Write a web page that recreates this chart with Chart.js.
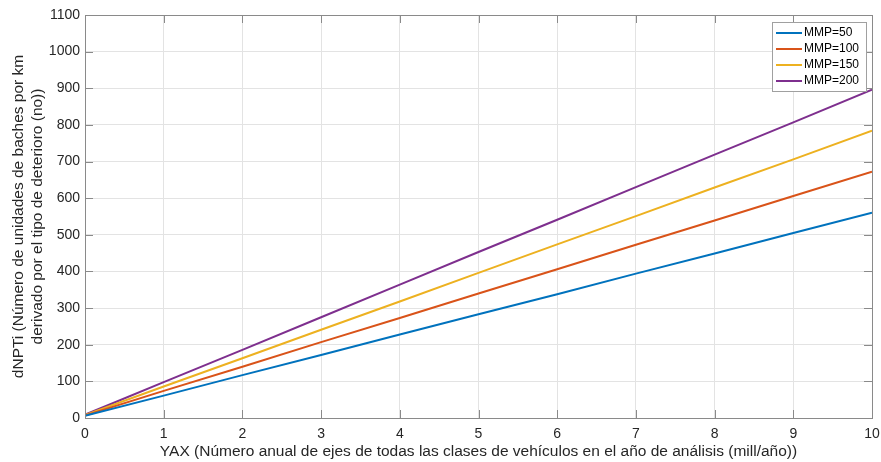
<!doctype html>
<html lang="es">
<head>
  <meta charset="utf-8">
  <script src="https://cdn.jsdelivr.net/npm/chart.js"></script>
  <style>
    html, body { margin: 0; padding: 0; background: #ffffff; }
    #caja { width: 881px; height: 462px; position: relative; }
  </style>
  <title>dNPTi vs YAX</title>
</head>
<body>
  <div id="caja"><canvas id="grafico"></canvas></div>

  <script>
    // Datos
    const yax = [0, 1, 2, 3, 4, 5, 6, 7, 8, 9, 10];
    const mmp50  = [6, 61, 117, 172, 228, 283, 338, 394, 449, 505, 560];
    const mmp100 = [7, 74, 140, 207, 273, 340, 406, 473, 539, 606, 672];
    const mmp150 = [8, 86, 163, 241, 318, 396, 474, 551, 629, 706, 784];
    const mmp200 = [9, 98, 186, 275, 364, 453, 541, 630, 719, 807, 896];
    const etiquetas = ["MMP=50", "MMP=100", "MMP=150", "MMP=200"];
    const xTicks = [0, 1, 2, 3, 4, 5, 6, 7, 8, 9, 10];
    const yTicks = [0, 100, 200, 300, 400, 500, 600, 700, 800, 900, 1000, 1100];

    const colores = ["#0072BD", "#D95319", "#EDB120", "#7E2F8E"];
    const series = [mmp50, mmp100, mmp150, mmp200];
    const fuente = "'Liberation Sans', Arial, sans-serif";

    // Caja, marcas interiores, leyenda y títulos al estilo MATLAB
    const estiloMatlab = {
      id: "estiloMatlab",
      afterDatasetsDraw(chart) {
        const ctx = chart.ctx;
        const a = chart.chartArea;
        const sx = chart.scales.x, sy = chart.scales.y;
        ctx.save();
        ctx.strokeStyle = "#8a8a8a";
        ctx.lineWidth = 1;
        ctx.beginPath();
        xTicks.forEach(t => {
          const px = Math.round(sx.getPixelForValue(t)) + 0.5;
          ctx.moveTo(px, a.bottom); ctx.lineTo(px, a.bottom - 8);
          ctx.moveTo(px, a.top); ctx.lineTo(px, a.top + 8);
        });
        yTicks.forEach(t => {
          const py = Math.round(sy.getPixelForValue(t)) + 0.5;
          ctx.moveTo(a.left, py); ctx.lineTo(a.left + 8, py);
          ctx.moveTo(a.right, py); ctx.lineTo(a.right - 8, py);
        });
        ctx.stroke();
        ctx.strokeRect(Math.round(a.left) + 0.5, Math.round(a.top) + 0.5,
                       Math.round(a.right - a.left), Math.round(a.bottom - a.top));

        // leyenda (esquina superior derecha)
        const lw = 94, lh = 69;
        const lx = Math.round(a.right) - lw - 6, ly = 22;
        ctx.fillStyle = "#ffffff";
        ctx.fillRect(lx, ly, lw, lh);
        ctx.strokeStyle = "#a0a0a0";
        ctx.strokeRect(lx + 0.5, ly + 0.5, lw, lh);
        ctx.font = "12px " + fuente;
        ctx.textBaseline = "middle";
        etiquetas.forEach((et, i) => {
          const yy = ly + 11 + i * 16;
          ctx.strokeStyle = colores[i];
          ctx.lineWidth = 2;
          ctx.beginPath();
          ctx.moveTo(lx + 4, yy); ctx.lineTo(lx + 30, yy);
          ctx.stroke();
          ctx.fillStyle = "#000000";
          ctx.fillText(et, lx + 32, yy);
        });

        // títulos de ejes
        ctx.fillStyle = "#262626";
        ctx.font = "15.5px " + fuente;
        ctx.textAlign = "center";
        ctx.textBaseline = "middle";
        ctx.fillText("YAX (Número anual de ejes de todas las clases de vehículos en el año de análisis (mill/año))",
                     (a.left + a.right) / 2, 452);
        ctx.translate(0, (a.top + a.bottom) / 2);
        ctx.rotate(-Math.PI / 2);
        ctx.fillText("dNPTi (Número de unidades de baches por km", 0, 19);
        ctx.fillText("derivado por el tipo de deterioro (no))", 0, 38);
        ctx.restore();
      }
    };

    const datasets = series.map((s, i) => ({
      label: etiquetas[i],
      data: yax.map((x, j) => ({ x: x, y: s[j] })),
      borderColor: colores[i],
      backgroundColor: colores[i],
      borderWidth: 2,
      pointRadius: 0,
      tension: 0
    }));

    new Chart(document.getElementById("grafico"), {
      type: "line",
      data: { datasets: datasets },
      options: {
        responsive: true,
        maintainAspectRatio: false,
        animation: false,
        layout: { padding: { left: 0, right: 9, top: 15, bottom: 0 } },
        plugins: { legend: { display: false }, tooltip: { enabled: false } },
        scales: {
          x: {
            type: "linear", min: 0, max: 10,
            border: { display: false },
            grid: { color: "#e3e3e3", drawTicks: false },
            ticks: { stepSize: 1, padding: 8, color: "#262626", font: { family: fuente, size: 14 },
                     callback: v => String(v) },
            afterFit: s => { s.height = 44; s.paddingLeft = 0; s.paddingRight = 0; }
          },
          y: {
            min: 0, max: 1100,
            border: { display: false },
            grid: { color: "#e3e3e3", drawTicks: false },
            ticks: { stepSize: 100, padding: 5, color: "#262626", font: { family: fuente, size: 14 },
                     callback: v => String(v) },
            afterFit: s => { s.width = 85; s.paddingTop = 0; s.paddingBottom = 0; }
          }
        }
      },
      plugins: [estiloMatlab]
    });
  </script>
</body>
</html>
